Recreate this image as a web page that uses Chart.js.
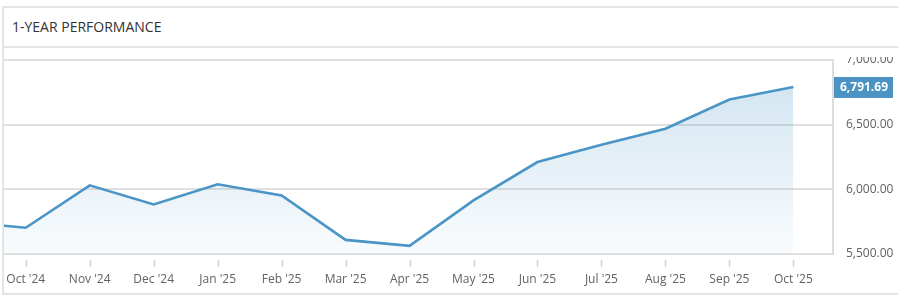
<!DOCTYPE html>
<html>
<head>
<meta charset="utf-8">
<script src="https://cdn.jsdelivr.net/npm/chart.js@4/dist/chart.umd.min.js"></script>
<style>
body{margin:0;background:#fff;font-family:'Open Sans',sans-serif;}
#panel{position:absolute;left:2px;top:6px;width:894px;height:285px;border-top:2px solid #e4e4e4;border-left:2px solid #e4e4e4;border-bottom:2px solid #e4e4e4;}
#head{height:38px;border-bottom:2px solid #e4e4e4;font-size:14px;color:#333;line-height:38px;padding-left:8px;}
#clip{position:absolute;left:4px;top:57px;width:897px;height:236px;overflow:hidden;}
#wrap{position:absolute;left:0;top:-9px;width:893px;height:245px;}
</style>
</head>
<body>
<div id="panel"><div id="head">1-YEAR PERFORMANCE</div></div>
<div id="clip"><div id="wrap"><canvas id="perfChart"></canvas></div></div>
<script>
// month tick labels, month positions (0 = Oct '24) and closing values
var monthLabels = ["Oct '24", "Nov '24", "Dec '24", "Jan '25", "Feb '25", "Mar '25", "Apr '25",
                   "May '25", "Jun '25", "Jul '25", "Aug '25", "Sep '25", "Oct '25"];
var pointPos = [-0.34, 0, 1, 2, 3, 4, 5, 6, 7, 8, 9, 10, 11, 12];
var pointValues = [5719, 5703, 6031, 5883, 6039, 5953, 5609, 5563, 5914, 6211, 6344, 6469, 6695, 6791.69];
var yTicks = [5500, 6000, 6500, 7000];

var lineColour = '#4a95c6';

var points = [];
for (var i = 0; i < pointPos.length; i++) {
    points.push({x: pointPos[i], y: pointValues[i]});
}

function fmt(v) {
    return v.toLocaleString('en-US', {minimumFractionDigits: 2, maximumFractionDigits: 2});
}

// little tick marks under the x axis and the last-value flag on the right
var extras = {
    id: 'extras',
    afterDraw: function(chart) {
        var ctx = chart.ctx;
        var xs = chart.scales.x, ys = chart.scales.y;
        var area = chart.chartArea;
        ctx.save();
        ctx.strokeStyle = '#d4d4d4';
        ctx.lineWidth = 1.5;
        xs.ticks.forEach(function(t) {
            var px = Math.round(xs.getPixelForValue(t.value)) + 0.5;
            ctx.beginPath();
            ctx.moveTo(px, area.bottom + 6);
            ctx.lineTo(px, area.bottom + 13);
            ctx.stroke();
        });
        var last = pointValues[pointValues.length - 1];
        var py = ys.getPixelForValue(last);
        ctx.fillStyle = '#4a93c3';
        ctx.fillRect(area.right + 1, py - 10, 59, 21);
        ctx.fillStyle = '#fff';
        ctx.font = 'bold 12px "Open Sans"';
        ctx.textAlign = 'center';
        ctx.textBaseline = 'middle';
        ctx.fillText(fmt(last), area.right + 31, py + 1);
        ctx.restore();
    }
};

Chart.defaults.font.family = "'Open Sans', sans-serif";
Chart.defaults.font.size = 12;
Chart.defaults.color = '#626262';

new Chart('perfChart', {
    type: 'line',
    data: {
        datasets: [{
            data: points,
            borderColor: lineColour,
            borderWidth: 2.6,
            pointRadius: 0,
            tension: 0,
            fill: 'start',
            backgroundColor: function(c) {
                var ca = c.chart.chartArea;
                if (!ca) return 'rgba(74,149,198,0.15)';
                var g = c.chart.ctx.createLinearGradient(0, ca.top, 0, ca.bottom);
                g.addColorStop(0, 'rgba(74,149,198,0.27)');
                g.addColorStop(1, 'rgba(74,149,198,0.03)');
                return g;
            }
        }]
    },
    options: {
        responsive: true,
        maintainAspectRatio: false,
        animation: false,
        layout: {padding: {top: 12, bottom: 7, left: 0, right: 0}},
        plugins: {legend: {display: false}, tooltip: {enabled: false}},
        scales: {
            x: {
                type: 'linear',
                min: -0.34,
                max: 12.62,
                grid: {display: false, drawTicks: false},
                border: {display: false},
                afterBuildTicks: function(s) {
                    s.ticks = monthLabels.map(function(_, i) { return {value: i}; });
                },
                afterFit: function(s) {
                    s.height = 32;
                    s.paddingLeft = 0;
                    s.paddingRight = 0;
                },
                ticks: {
                    padding: 18,
                    maxRotation: 0,
                    autoSkip: false,
                    callback: function(v) { return monthLabels[v]; }
                }
            },
            y: {
                position: 'right',
                min: yTicks[0],
                max: yTicks[yTicks.length - 1],
                afterBuildTicks: function(s) {
                    s.ticks = yTicks.map(function(v) { return {value: v}; });
                },
                afterFit: function(s) {
                    s.width = 64;
                    s.paddingTop = 0;
                    s.paddingBottom = 0;
                },
                grid: {color: '#e0e0e0', lineWidth: 2, drawTicks: false},
                border: {display: true, color: '#dddddd', width: 2},
                ticks: {
                    padding: 13,
                    callback: function(v) { return fmt(v); }
                }
            }
        }
    },
    plugins: [extras]
});
</script>
</body>
</html>
